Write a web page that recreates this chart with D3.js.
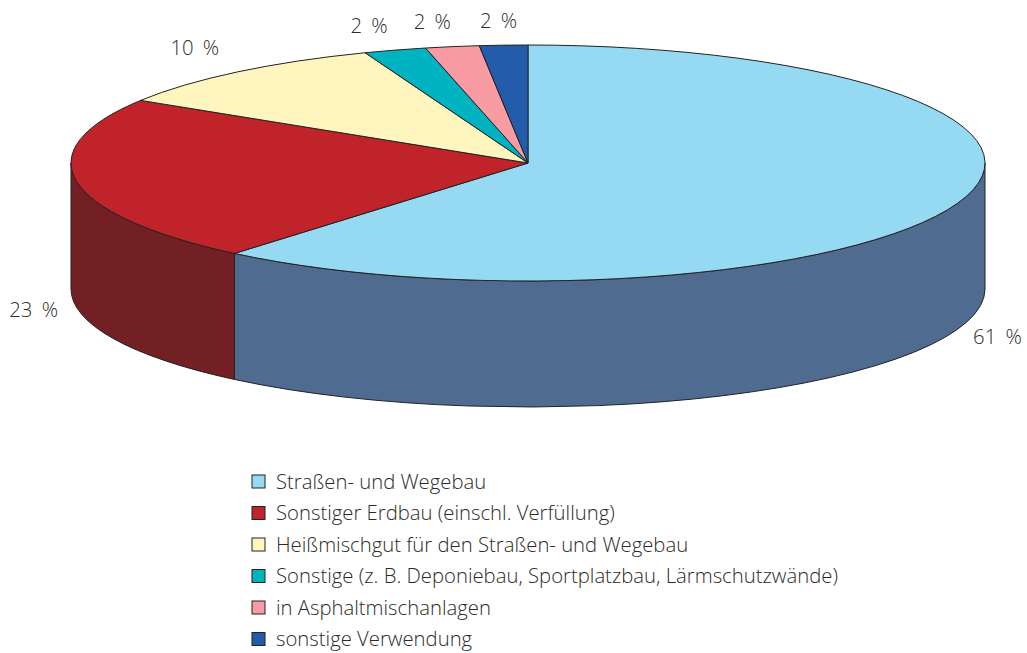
<!DOCTYPE html>
<html>

<head>
  <meta charset="utf-8">
  <script src="https://cdn.jsdelivr.net/npm/d3@7"></script>
  <style>
    body {
      margin: 0;
      background: white;
    }

    text {
      font-family: "Open Sans", sans-serif;
      font-weight: 300;
      font-size: 20.3px;
      fill: #2b2b2b;
    }

    .pct {
      word-spacing: 4px;
    }
  </style>
</head>

<body>
  <script>
    const categories = [
      'Straßen- und Wegebau',
      'Sonstiger Erdbau (einschl. Verfüllung)',
      'Heißmischgut für den Straßen- und Wegebau',
      'Sonstige (z. B. Deponiebau, Sportplatzbau, Lärmschutzwände)',
      'in Asphaltmischanlagen',
      'sonstige Verwendung'
    ]
    // slice sizes, the printed labels are rounded
    const values = [61.1, 22.8, 10.3, 2.2, 1.9, 1.7]
    const labels = ['61 %', '23 %', '10 %', '2 %', '2 %', '2 %']
    const topColors = ['#96d9f2', '#c1232b', '#fef6be', '#00b3c1', '#f89ba3', '#225caa']
    const sideColors = ['#4f6c90', '#722024', '#8c8560', '#005f68', '#85525a', '#123262']

    const width = 1027
    const height = 653
    const cx = 528
    const cy = 163
    const rx = 457
    const ry = 118
    const depth = 126
    const stroke = '#222'
    const labelNudge = [[40, 8], [-43, 2], [-43, -24], [-26, -24], [-20, -25], [-5, -24]]

    const svg = d3.select('body').append('svg')
      .attr('width', width)
      .attr('height', height)

    const arcs = d3.pie().sort(null).value(d => d)(values)

    // angles run clockwise from the top of the ellipse
    const px = a => cx + rx * Math.sin(a)
    const py = a => cy - ry * Math.cos(a)

    // only the front half of the rim is visible
    const front0 = Math.PI / 2
    const front1 = Math.PI * 3 / 2

    const sides = arcs
      .map(d => ({ i: d.index, a0: Math.max(d.startAngle, front0), a1: Math.min(d.endAngle, front1) }))
      .filter(d => d.a1 > d.a0)

    svg.append('g').selectAll('path')
      .data(sides)
      .join('path')
      .attr('d', d => `M${px(d.a0)},${py(d.a0)}`
        + `A${rx},${ry} 0 0 1 ${px(d.a1)},${py(d.a1)}`
        + `L${px(d.a1)},${py(d.a1) + depth}`
        + `A${rx},${ry} 0 0 0 ${px(d.a0)},${py(d.a0) + depth}Z`)
      .attr('fill', d => sideColors[d.i])
      .attr('stroke', stroke)
      .attr('stroke-width', 1)
      .attr('stroke-linejoin', 'round')

    svg.append('g').selectAll('path')
      .data(arcs)
      .join('path')
      .attr('d', d => {
        const large = d.endAngle - d.startAngle > Math.PI ? 1 : 0
        return `M${cx},${cy}L${px(d.startAngle)},${py(d.startAngle)}`
          + `A${rx},${ry} 0 ${large} 1 ${px(d.endAngle)},${py(d.endAngle)}Z`
      })
      .attr('fill', d => topColors[d.index])
      .attr('stroke', stroke)
      .attr('stroke-width', 1)
      .attr('stroke-linejoin', 'round')

    // percent labels hang off the rim at each slice's middle angle
    svg.append('g').selectAll('text')
      .data(arcs)
      .join('text')
      .attr('class', 'pct')
      .attr('text-anchor', 'middle')
      .attr('dy', '0.35em')
      .attr('x', d => px((d.startAngle + d.endAngle) / 2) + labelNudge[d.index][0])
      .attr('y', d => {
        const mid = (d.startAngle + d.endAngle) / 2
        const wall = mid > front0 && mid < front1 ? depth : 0
        return py(mid) + wall + labelNudge[d.index][1]
      })
      .text(d => labels[d.index])

    const legendY = d3.scalePoint().domain(categories).range([481.5, 639])

    const legend = svg.append('g').selectAll('g')
      .data(categories)
      .join('g')
      .attr('transform', d => `translate(252,${legendY(d)})`)

    legend.append('rect')
      .attr('x', 0)
      .attr('y', -6.5)
      .attr('width', 13)
      .attr('height', 13)
      .attr('fill', (d, i) => topColors[i])
      .attr('stroke', stroke)
      .attr('stroke-width', 1)

    legend.append('text')
      .attr('x', 24)
      .attr('dy', '0.35em')
      .text(d => d)
  </script>
</body>

</html>
